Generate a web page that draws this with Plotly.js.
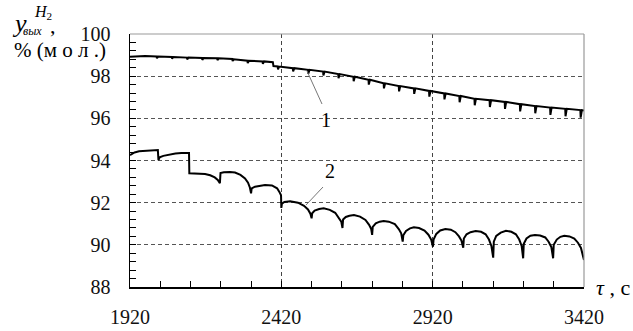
<!DOCTYPE html>
<html>
<head>
<meta charset="utf-8">
<script src="https://cdn.plot.ly/plotly-3.0.1.min.js"></script>
<style>html,body{margin:0;padding:0;background:#fff;}#chart{width:633px;height:331px;}</style>
</head>
<body>
<div id="chart"></div>
<script>
// Curve 1 (with small periodic notches)
const t1 = [1920,1970,
  2008,2009,2013, 2058,2059,2063, 2108,2109,2113, 2158,2159,2163, 2208,2209,2213,
  2258,2259,2263, 2308,2309,2313, 2358,2359,2363, 2392,2394,
  2408,2409,2413, 2458,2459,2463, 2508,2509,2513, 2558,2559,2563, 2608,2609,2613,
  2658,2659,2663, 2708,2709,2713, 2758,2759,2763, 2808,2809,2813, 2858,2859,2863,
  2908,2909,2913, 2958,2959,2963, 3008,3009,3013, 3058,3059,3063, 3108,3109,3113,
  3158,3159,3163, 3208,3209,3213, 3258,3259,3263, 3308,3309,3313, 3358,3359,3363,
  3408,3409,3413, 3420];
const y1 = [98.92,98.96,
  98.93,98.85,98.93, 98.91,98.83,98.91, 98.88,98.80,98.88, 98.86,98.77,98.86, 98.85,98.76,98.85,
  98.82,98.72,98.80, 98.73,98.62,98.73, 98.70,98.58,98.70, 98.66,98.48,
  98.46,98.32,98.46, 98.38,98.22,98.38, 98.30,98.12,98.30, 98.22,98.03,98.22, 98.10,97.90,98.10,
  97.97,97.76,97.97, 97.83,97.60,97.83, 97.66,97.42,97.66, 97.53,97.28,97.53, 97.42,97.16,97.42,
  97.30,97.03,97.30, 97.18,96.90,97.18, 97.06,96.76,97.06, 96.93,96.62,96.93, 96.86,96.54,96.86,
  96.78,96.45,96.78, 96.67,96.33,96.67, 96.58,96.24,96.58, 96.51,96.16,96.51, 96.45,96.10,96.45,
  96.39,96.03,96.39, 96.37];

// Curve 2 (scalloped)
const t2 = [1920,1935,1950,1970,1990,2008,2012,
  2014,2018,2030,2050,2070,2090,2112,2115,
  2116,2140,2168,2185,2200,2210,2217,
  2219,2230,2250,2267,2285,2300,2310,2316,2320,
  2322,2333,2350,2366,2389,2406,2414,2419,2420,
  2422,2430,2449,2475,2495,2508,2516,2520,
  2522,2530,2545,2560,2580,2598,2610,2618,2622,
  2624,2633,2645,2660,2680,2698,2710,2717,2720,
  2722,2732,2745,2758,2775,2795,2808,2816,2821,
  2823,2832,2845,2858,2875,2893,2906,2915,2921,
  2923,2932,2945,2962,2980,2995,3007,3015,3021,
  3023,3032,3045,3062,3080,3095,3106,3114,3120,
  3122,3130,3145,3162,3180,3195,3206,3214,3219,
  3221,3230,3243,3258,3275,3292,3303,3312,3318,
  3320,3330,3342,3355,3372,3388,3400,3410,3417,3420];
const y2 = [94.26,94.38,94.44,94.46,94.48,94.50,94.50,
  94.02,94.15,94.22,94.28,94.33,94.35,94.36,94.36,
  93.39,93.39,93.36,93.30,93.20,93.08,92.92,
  93.40,93.44,93.45,93.43,93.32,93.15,92.95,92.72,92.44,
  92.68,92.76,92.82,92.84,92.82,92.68,92.50,92.35,91.75,
  91.95,92.03,92.07,92.00,91.85,91.68,91.48,91.26,
  91.50,91.62,91.70,91.73,91.66,91.52,91.30,91.10,90.80,
  91.20,91.32,91.38,91.41,91.34,91.18,90.95,90.75,90.47,
  90.85,91.02,91.10,91.13,91.10,90.98,90.75,90.55,90.15,
  90.45,90.66,90.78,90.83,90.80,90.68,90.48,90.25,89.91,
  90.25,90.52,90.68,90.75,90.72,90.60,90.40,90.20,89.86,
  90.30,90.50,90.60,90.65,90.62,90.50,90.25,89.95,89.39,
  90.15,90.42,90.58,90.67,90.62,90.50,90.25,89.95,89.36,
  90.05,90.30,90.43,90.47,90.44,90.35,90.15,89.90,89.36,
  90.00,90.25,90.38,90.43,90.40,90.30,90.10,89.85,89.45,89.28];

const xTicks = [1920, 2420, 2920, 3420];
const yTicks = [88, 90, 92, 94, 96, 98, 100];
const curveLabels = ['1', '2'];

const SERIF = 'Times New Roman, Liberation Serif, DejaVu Serif, serif';
const W = 633, H = 331, L = 130, R = 584, T = 34, B = 287;
const px = x => (x - L) / (R - L);
const py = y => (B - y) / (B - T);

const traces = [
  {x: t1, y: y1, mode: 'lines', line: {color: '#000', width: 2}, hoverinfo: 'skip'},
  {x: t2, y: y2, mode: 'lines', line: {color: '#000', width: 2}, hoverinfo: 'skip'}
];

const ann = (text, x, y, size, extra) => Object.assign({
  text: text, xref: 'paper', yref: 'paper', x: px(x), y: py(y),
  showarrow: false, xanchor: 'center', yanchor: 'middle',
  font: {family: SERIF, size: size, color: '#000'}
}, extra || {});

const layout = {
  width: W, height: H,
  margin: {l: L, r: W - R, t: T, b: H - B, pad: 0},
  paper_bgcolor: '#fff', plot_bgcolor: '#fff',
  showlegend: false,
  font: {family: SERIF},
  xaxis: {
    range: [1920, 3420], tickvals: xTicks, ticktext: xTicks.map(String),
    ticks: 'inside', ticklen: 6, tickcolor: '#000', tickwidth: 1,
    showline: true, linecolor: '#000', linewidth: 1.5,
    showgrid: true, gridcolor: '#444', gridwidth: 1, griddash: '4px,3px',
    zeroline: false,
    minor: {dtick: 100, tick0: 1920, ticks: 'inside', ticklen: 6, tickcolor: '#000', showgrid: false},
    tickfont: {family: SERIF, size: 20, color: '#111'},
    ticklabelstandoff: 11
  },
  yaxis: {
    range: [88, 100], tickvals: yTicks, ticktext: yTicks.map(String),
    ticks: 'inside', ticklen: 6, tickcolor: '#000', tickwidth: 1,
    showline: true, linecolor: '#000', linewidth: 1.5,
    showgrid: true, gridcolor: '#555', gridwidth: 1, griddash: '4px,3px',
    zeroline: false,
    minor: {dtick: 0.4, tick0: 88, ticks: 'inside', ticklen: 6, tickcolor: '#000', showgrid: false},
    tickfont: {family: SERIF, size: 20, color: '#111'},
    ticklabelstandoff: 14
  },
  shapes: [
    {type: 'line', xref: 'paper', yref: 'paper', x0: 0, x1: 1, y0: 1, y1: 1, line: {color: '#999', width: 1.2}},
    {type: 'line', xref: 'paper', yref: 'paper', x0: 1, x1: 1, y0: 0, y1: 1, line: {color: '#999', width: 1.2}},
    {type: 'line', xref: 'paper', yref: 'paper', x0: px(307), y0: py(71), x1: px(322), y1: py(104), line: {color: '#777', width: 1}},
    {type: 'line', xref: 'paper', yref: 'paper', x0: px(306), y0: py(205), x1: px(323), y1: py(187), line: {color: '#777', width: 1}}
  ],
  annotations: [
    ann(curveLabels[0], 326, 120, 20),
    ann(curveLabels[1], 330, 171, 20),
    ann('<i>τ</i> , c', 594, 287, 22, {xanchor: 'left'}),
    ann('<i>y</i>', 19, 23, 26),
    ann('<i>вых</i>', 32, 31, 12),
    ann('<i>H</i><sub>2</sub>', 43, 12, 16),
    ann(',', 53, 26, 22),
    ann('% (м о л .)', 60, 50, 21)
  ]
};

Plotly.newPlot('chart', traces, layout, {staticPlot: true, displayModeBar: false});
</script>
</body>
</html>
